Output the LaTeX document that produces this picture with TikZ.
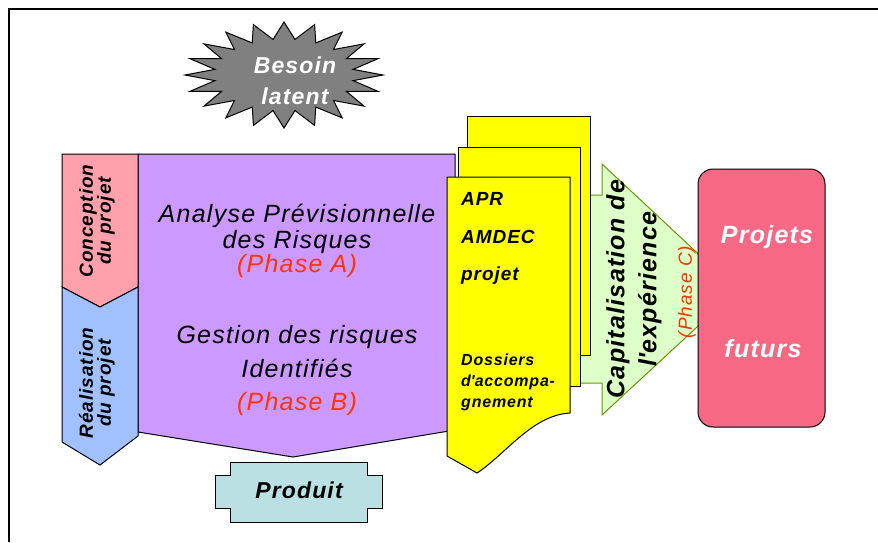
\documentclass[tikz,border=0pt]{standalone}
\usepackage{fontspec}
\setmainfont{Liberation Sans}[LetterSpace=5]
\definecolor{purpleF}{RGB}{204,153,255}
\definecolor{pinkL}{RGB}{255,160,172}
\definecolor{blueL}{RGB}{160,192,255}
\definecolor{yel}{RGB}{255,255,0}
\definecolor{greenF}{RGB}{221,255,200}
\definecolor{greenD}{RGB}{102,153,0}
\definecolor{pinkBox}{RGB}{247,104,132}
\definecolor{tealF}{RGB}{187,224,227}
\definecolor{redT}{RGB}{255,51,0}
\definecolor{grayS}{RGB}{128,128,128}
\newcommand{\apos}{\XeTeXglyph\XeTeXcharglyph"0027\relax}
\begin{document}
\begin{tikzpicture}[x=1pt,y=-1pt,
  outl/.style={draw=black, line width=1pt, line join=miter},
  ptxt/.style={inner sep=0pt, anchor=base, font=\itshape\fontsize{25}{28}\selectfont},
  rtxt/.style={ptxt, text=redT},
  btxt/.style={inner sep=0pt, anchor=base, font=\bfseries\itshape\fontsize{#1}{#1}\selectfont},
  wtxt/.style={btxt=#1, text=white}]
\useasboundingbox (0,0) rectangle (878,542);
\draw[line width=2pt] (878,9) -- (9,9) -- (9,542);

% starburst
\begin{scope}[shift={(284,75)}]
\filldraw[fill=grayS, outl] (0:99 and 53)
  \foreach \i in {0,...,19}{ -- ({\i*18+9}:70 and 36) -- ({\i*18+18}:99 and 53)} -- cycle;
\end{scope}

% purple
\filldraw[fill=purpleF, outl] (138,154) -- (455,154) -- (455,430) -- (293,457) -- (138,432) -- cycle;
% pink chevron
\filldraw[fill=pinkL, outl] (62,154) -- (138,154) -- (138,287) -- (100,307) -- (62,287) -- cycle;
% blue chevron
\filldraw[fill=blueL, outl] (62,287) -- (100,307) -- (138,287) -- (138,436) -- (100,465) -- (62,442) -- cycle;

% green arrow
\filldraw[fill=greenF, draw=greenD, line width=1pt] (560,195) -- (602,195) -- (602,164) -- (737,290) -- (602,415) -- (602,383) -- (560,383) -- cycle;

% yellow pages
\filldraw[fill=yel, outl] (467,116) rectangle (590,355);
\filldraw[fill=yel, outl] (458,147) rectangle (580,386);
\filldraw[fill=yel, outl] (447,177) -- (570,177) -- (570,413)
  .. controls (532,415) and (505,455) .. (477,473) -- (447,456) -- cycle;

% pink box
\filldraw[fill=pinkBox, outl, rounded corners=15pt] (698,169) rectangle (825,427);

% produit
\filldraw[fill=tealF, outl] (230,462) -- (367,462) -- (367,475) -- (382,475) -- (382,508) -- (367,508)
  -- (367,522) -- (230,522) -- (230,508) -- (215,508) -- (215,475) -- (230,475) -- cycle;

% texts
\node[wtxt=23] (bes) at (295,73) {Besoin};
\node[wtxt=23] (lat) at (295,104) {latent};

\node[ptxt] (t1) at (297,222) {Analyse Prévisionnelle};
\node[ptxt] (t2) at (297,248) {des Risques};
\node[rtxt] (t3) at (297,272) {(Phase A)};
\node[ptxt] (t4) at (297,343) {Gestion des risques};
\node[ptxt] (t5) at (297,377) {Identifiés};
\node[rtxt] (t6) at (297,410) {(Phase B)};

\node[rotate=90, align=center, inner sep=0pt, font=\bfseries\itshape\fontsize{19}{18}\selectfont] (conc) at (97,221) {Conception\\du projet};
\node[rotate=90, align=center, inner sep=0pt, font=\bfseries\itshape\fontsize{19}{18}\selectfont] (real) at (97,383) {Réalisation\\du projet};

\node[btxt=19, anchor=base west] (apr) at (461,205) {APR};
\node[btxt=19, anchor=base west] (amd) at (461,243) {AMDEC};
\node[btxt=19, anchor=base west] (prj) at (461,280) {projet};
\node[btxt=16, anchor=base west] (dos) at (461,365) {Dossiers};
\node[btxt=16, anchor=base west] (dac) at (461,386) {d\apos accompa-};
\node[btxt=16, anchor=base west] (gne) at (461,407) {gnement};

\node[rotate=90, align=center, inner sep=0pt, font=\bfseries\itshape\fontsize{25}{32}\selectfont] (cap) at (634,289) {Capitalisation de\\l\apos expérience};
\node[rotate=90, inner sep=0pt, text=redT, font=\itshape\fontsize{19}{20}\selectfont] (phc) at (687,292) {(Phase C)};

\node[wtxt=25] (pro) at (767,243) {Projets};
\node[wtxt=25] (fut) at (763,357) {futurs};

\node[btxt=23, anchor=base] (prd) at (299,498) {Produit};
\end{tikzpicture}
\end{document}
